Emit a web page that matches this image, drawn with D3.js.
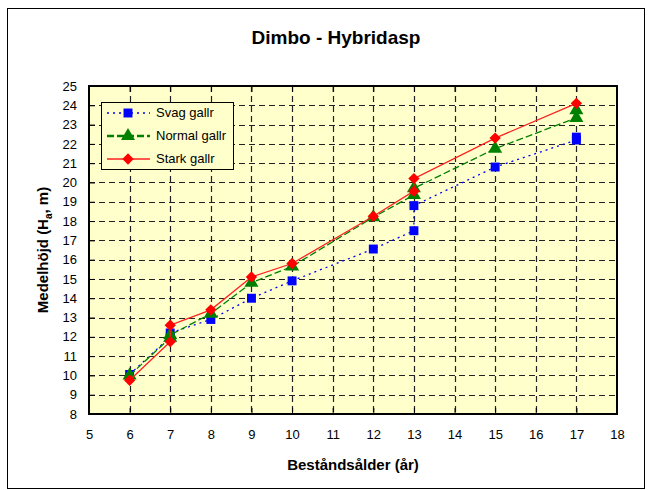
<!DOCTYPE html>
<html>
<head>
<meta charset="utf-8">
<script src="https://cdn.jsdelivr.net/npm/d3@7"></script>
<style>
  body { margin: 0; background: #fff; }
  text { font-family: "Liberation Sans", Arial, sans-serif; }
</style>
</head>
<body>
<svg id="chart"></svg>
<script>
// ages (x) - thinning years appear twice (before / after)
var svagAge   = [6, 7, 7, 8, 9, 10, 12, 13, 13, 15, 17, 17];
var svagH     = [10.05, 12.0, 12.2, 12.9, 14.0, 14.9, 16.55, 17.5, 18.8, 20.8, 22.2, 22.35];
var normalAge = [6, 7, 7, 8, 9, 10, 12, 13, 13, 15, 17, 17];
var normalH   = [10.0, 11.95, 12.1, 13.2, 14.8, 15.65, 18.2, 19.35, 19.7, 21.75, 23.35, 23.75];
var starkAge  = [6, 7, 7, 8, 9, 10, 12, 13, 13, 15, 17];
var starkH    = [9.75, 11.75, 12.6, 13.4, 15.1, 15.8, 18.25, 19.55, 20.2, 22.3, 24.1];
var seriesNames = ["Svag gallr", "Normal gallr", "Stark gallr"];
var xTicks = d3.range(5, 19);
var yTicks = d3.range(8, 26);

var svg = d3.select("#chart").attr("width", 650).attr("height", 490);

// outer frame
svg.append("rect").attr("x", 7.5).attr("y", 8.5).attr("width", 637).attr("height", 480)
  .attr("fill", "#fff").attr("stroke", "#000").attr("stroke-width", 1);

svg.append("text").attr("x", 336).attr("y", 44).attr("text-anchor", "middle")
  .style("font-size", "19px").style("font-weight", "bold").text("Dimbo - Hybridasp");

var pL = 89, pR = 617, pT = 86, pB = 414;
var x = d3.scaleLinear().domain([5, 18]).range([pL, pR]);
var y = d3.scaleLinear().domain([8, 25]).range([pB, pT]);

// plot background
svg.append("rect").attr("x", pL).attr("y", pT).attr("width", pR - pL).attr("height", pB - pT)
  .attr("fill", "#ffffcc");

// grid
var grid = svg.append("g").attr("stroke", "#222").attr("stroke-width", 1.2).attr("stroke-dasharray", "6,4");
grid.selectAll(".gx").data(xTicks.slice(1, -1)).enter().append("line")
  .attr("x1", d => Math.round(x(d)) + 0.5).attr("x2", d => Math.round(x(d)) + 0.5)
  .attr("y1", pT).attr("y2", pB);
grid.selectAll(".gy").data(yTicks.slice(1, -1)).enter().append("line")
  .attr("y1", d => Math.round(y(d)) + 0.5).attr("y2", d => Math.round(y(d)) + 0.5)
  .attr("x1", pL).attr("x2", pR);

// axes: ticks pointing inward
var xAxis = svg.append("g").attr("transform", "translate(0," + pB + ")")
  .call(d3.axisBottom(x).tickValues(xTicks).tickSizeInner(-6).tickSizeOuter(0).tickPadding(16));
var xTop = svg.append("g").attr("transform", "translate(0," + pT + ")")
  .call(d3.axisTop(x).tickValues(xTicks).tickSizeInner(-6).tickSizeOuter(0).tickFormat(""));
var yAxis = svg.append("g").attr("transform", "translate(" + pL + ",0)")
  .call(d3.axisLeft(y).tickValues(yTicks).tickSizeInner(-6).tickSizeOuter(0).tickPadding(12));
[xAxis, xTop, yAxis].forEach(function(a) {
  a.select(".domain").remove();
  a.selectAll("line").attr("stroke", "#000");
  a.selectAll("text").style("font-size", "13px").attr("fill", "#000").style("font-family", "Liberation Sans, Arial, sans-serif");
});

svg.append("rect").attr("x", pL).attr("y", pT).attr("width", pR - pL).attr("height", pB - pT)
  .attr("fill", "none").attr("stroke", "#000").attr("stroke-width", 2);

// axis titles
svg.append("text").attr("x", 353).attr("y", 470).attr("text-anchor", "middle")
  .style("font-size", "15px").style("font-weight", "bold").text("Beståndsålder (år)");
var yt = svg.append("text").attr("transform", "translate(48,250) rotate(-90)").attr("text-anchor", "middle")
  .style("font-size", "15px").style("font-weight", "bold");
yt.append("tspan").text("Medelhöjd (H");
yt.append("tspan").attr("dy", 4).style("font-size", "10px").text("a");
yt.append("tspan").attr("dy", -4).text(", m)");

var series = [
  {name: seriesNames[0], age: svagAge, h: svagH, color: "#0000ff", lineColor: "#0000ff", dash: "2,4", width: 1.3, symbol: d3.symbolSquare, size: 80, rot: 0},
  {name: seriesNames[1], age: normalAge, h: normalH, color: "#008000", lineColor: "#008000", dash: "7,3", width: 1.3, symbol: d3.symbolTriangle, size: 85, rot: 0},
  {name: seriesNames[2], age: starkAge, h: starkH, color: "#ff0000", lineColor: "#ff2020", dash: null, width: 1.3, symbol: d3.symbolSquare, size: 64, rot: 45}
];

var line = d3.line().x(d => x(d[0])).y(d => y(d[1]));

series.forEach(function(s) {
  var pts = s.age.map((a, i) => [a, s.h[i]]);
  svg.append("path").datum(pts).attr("d", line).attr("fill", "none")
    .attr("stroke", s.lineColor).attr("stroke-width", s.width).attr("stroke-dasharray", s.dash);
  svg.selectAll(null).data(pts).enter().append("path")
    .attr("d", d3.symbol().type(s.symbol).size(s.size))
    .attr("transform", d => "translate(" + x(d[0]) + "," + y(d[1]) + ") rotate(" + s.rot + ")")
    .attr("fill", s.color);
});

// legend
var lg = svg.append("g").attr("transform", "translate(101,102)");
lg.append("rect").attr("x", 0.5).attr("y", 0.5).attr("width", 132).attr("height", 67)
  .attr("fill", "#ffffcc").attr("stroke", "#000").attr("stroke-width", 1);
series.forEach(function(s, i) {
  var ly = 11 + i * 23;
  lg.append("line").attr("x1", 6).attr("x2", 49).attr("y1", ly).attr("y2", ly)
    .attr("stroke", s.lineColor).attr("stroke-width", s.width + (i == 1 ? 1 : 0)).attr("stroke-dasharray", s.dash);
  lg.append("path").attr("d", d3.symbol().type(s.symbol).size(s.size))
    .attr("transform", "translate(27," + ly + ") rotate(" + s.rot + ")").attr("fill", s.color);
  lg.append("text").attr("x", 55).attr("y", ly + 4).style("font-size", "13px").text(s.name);
});
</script>
</body>
</html>
